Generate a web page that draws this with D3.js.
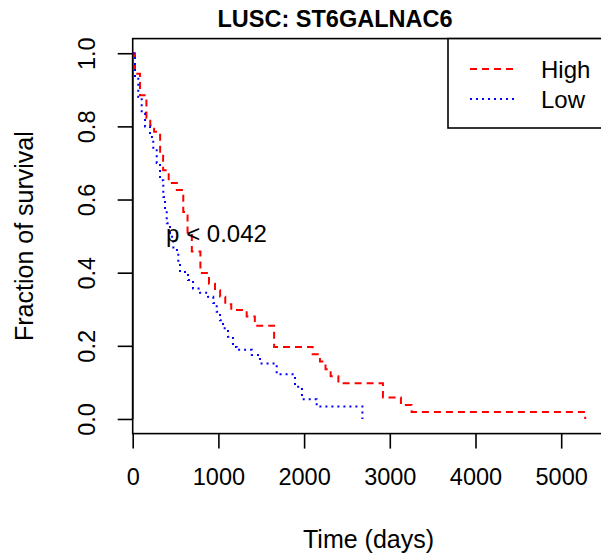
<!DOCTYPE html>
<html>
<head>
<meta charset="utf-8">
<script src="https://cdn.jsdelivr.net/npm/d3@7"></script>
<style>
  html, body { margin: 0; padding: 0; background: #fff; }
  svg { display: block; font-family: "Liberation Sans", Arial, Helvetica, sans-serif; }
</style>
</head>
<body>
<svg id="chart" width="601" height="558"></svg>
<script>
// ---- data ----
const title = "LUSC: ST6GALNAC6";
const xLabel = "Time (days)";
const yLabel = "Fraction of survival";
const pText = "p < 0.042";
const seriesNames = ["High", "Low"];

const highTimes = [0, 27, 85, 160, 205, 250, 320, 355, 420, 515, 590, 640, 690, 790, 890, 960, 1020, 1080, 1150, 1330, 1425, 1650, 2100, 2185, 2250, 2310, 2400, 2920, 3130, 3255, 5280];
const highSurv  = [1.0, 0.944, 0.885, 0.822, 0.803, 0.785, 0.727, 0.68, 0.645, 0.626, 0.566, 0.51, 0.458, 0.399, 0.37, 0.352, 0.334, 0.314, 0.298, 0.28, 0.255, 0.197, 0.177, 0.157, 0.136, 0.117, 0.0975, 0.059, 0.038, 0.019, 0.0];

const lowTimes = [0, 27, 65, 105, 144, 202, 240, 280, 319, 357, 377, 397, 435, 474, 532, 552, 645, 704, 785, 879, 940, 980, 1019, 1054, 1112, 1170, 1214, 1389, 1485, 1680, 1894, 1975, 2147, 2680];
const lowSurv  = [1.0, 0.935, 0.88, 0.836, 0.8, 0.771, 0.735, 0.7, 0.653, 0.607, 0.571, 0.535, 0.498, 0.462, 0.426, 0.402, 0.38, 0.357, 0.345, 0.334, 0.317, 0.293, 0.27, 0.248, 0.225, 0.197, 0.189, 0.175, 0.152, 0.122, 0.088, 0.054, 0.034, 0.0];

const xTicks = [0, 1000, 2000, 3000, 4000, 5000];
const yTicks = [0.0, 0.2, 0.4, 0.6, 0.8, 1.0];

// ---- layout ----
const svg = d3.select("#chart");
const plot = { left: 132.7, right: 604.3, top: 38.6, bottom: 433.6 };

const x = d3.scaleLinear().domain([0, 5503]).range([plot.left, plot.right]);
const y = d3.scaleLinear().domain([-0.04, 1.04]).range([plot.bottom, plot.top]);

const fontTick = 23.5;

// box
svg.append("rect")
  .attr("x", plot.left).attr("y", plot.top)
  .attr("width", plot.right - plot.left).attr("height", plot.bottom - plot.top)
  .attr("fill", "none").attr("stroke", "#000").attr("stroke-width", 1.6);

// x axis
const xAxis = d3.axisBottom(x).tickValues(xTicks).tickSize(15).tickPadding(20).tickFormat(d3.format("d"));
const gx = svg.append("g").attr("transform", `translate(0,${plot.bottom})`).call(xAxis);
gx.select(".domain").remove();
gx.selectAll("line").attr("stroke", "#000").attr("stroke-width", 1.6);
gx.selectAll("text").attr("font-size", fontTick).attr("fill", "#000")
  .attr("font-family", "Liberation Sans, Arial, sans-serif");

// y axis
const yAxis = d3.axisLeft(y).tickValues(yTicks).tickSize(15).tickFormat(d3.format(".1f"));
const gy = svg.append("g").attr("transform", `translate(${plot.left},0)`).call(yAxis);
gy.select(".domain").attr("d", `M0,${y(0)}V${y(1)}`).attr("stroke", "#000").attr("stroke-width", 1.6);
gy.selectAll("line").attr("stroke", "#000").attr("stroke-width", 1.6);
gy.selectAll(".tick text")
  .attr("font-size", fontTick).attr("fill", "#000")
  .attr("font-family", "Liberation Sans, Arial, sans-serif")
  .attr("x", null).attr("dy", null)
  .attr("text-anchor", "middle")
  .attr("transform", "translate(-37.5,0) rotate(-90)");

// curves
const line = d3.line().x(d => x(d[0])).y(d => y(d[1])).curve(d3.curveStepAfter);
const highData = highTimes.map((t, i) => [t, highSurv[i]]);
const lowData = lowTimes.map((t, i) => [t, lowSurv[i]]);

const clip = svg.append("clipPath").attr("id", "clip").append("rect")
  .attr("x", plot.left).attr("y", plot.top)
  .attr("width", plot.right - plot.left).attr("height", plot.bottom - plot.top);

svg.append("path").datum(highData).attr("d", line)
  .attr("fill", "none").attr("stroke", "#ff0000").attr("stroke-width", 2)
  .attr("stroke-dasharray", "7,5");
svg.append("path").datum(lowData).attr("d", line)
  .attr("fill", "none").attr("stroke", "#0000ff").attr("stroke-width", 2)
  .attr("stroke-dasharray", "2,4");

// p value
svg.append("text").attr("x", 216.5).attr("y", 242)
  .attr("text-anchor", "middle").attr("font-size", 24).attr("fill", "#000").text(pText);

// title
svg.append("text").attr("x", 335).attr("y", 27)
  .attr("text-anchor", "middle").attr("font-size", 23.5).attr("font-weight", "bold")
  .attr("fill", "#000").text(title);

// x label
svg.append("text").attr("x", 368.5).attr("y", 548)
  .attr("text-anchor", "middle").attr("font-size", 25).attr("fill", "#000").text(xLabel);

// y label
svg.append("text").attr("transform", `translate(33,${(plot.top + plot.bottom) / 2}) rotate(-90)`)
  .attr("text-anchor", "middle").attr("font-size", 25).attr("fill", "#000").text(yLabel);

// legend
const leg = svg.append("g");
leg.append("rect").attr("x", 448).attr("y", plot.top).attr("width", 170).attr("height", 128 - plot.top)
  .attr("fill", "#fff").attr("stroke", "#000").attr("stroke-width", 1.6);
const legColors = ["#ff0000", "#0000ff"];
const legDash = ["7,5", "2,4"];
const legY = [69, 99];
seriesNames.forEach((name, i) => {
  leg.append("line").attr("x1", 470).attr("x2", 518).attr("y1", legY[i]).attr("y2", legY[i])
    .attr("stroke", legColors[i]).attr("stroke-width", 2).attr("stroke-dasharray", legDash[i]);
  leg.append("text").attr("x", 541).attr("y", legY[i] + 8.5)
    .attr("font-size", 24).attr("fill", "#000").text(name);
});
</script>
</body>
</html>
